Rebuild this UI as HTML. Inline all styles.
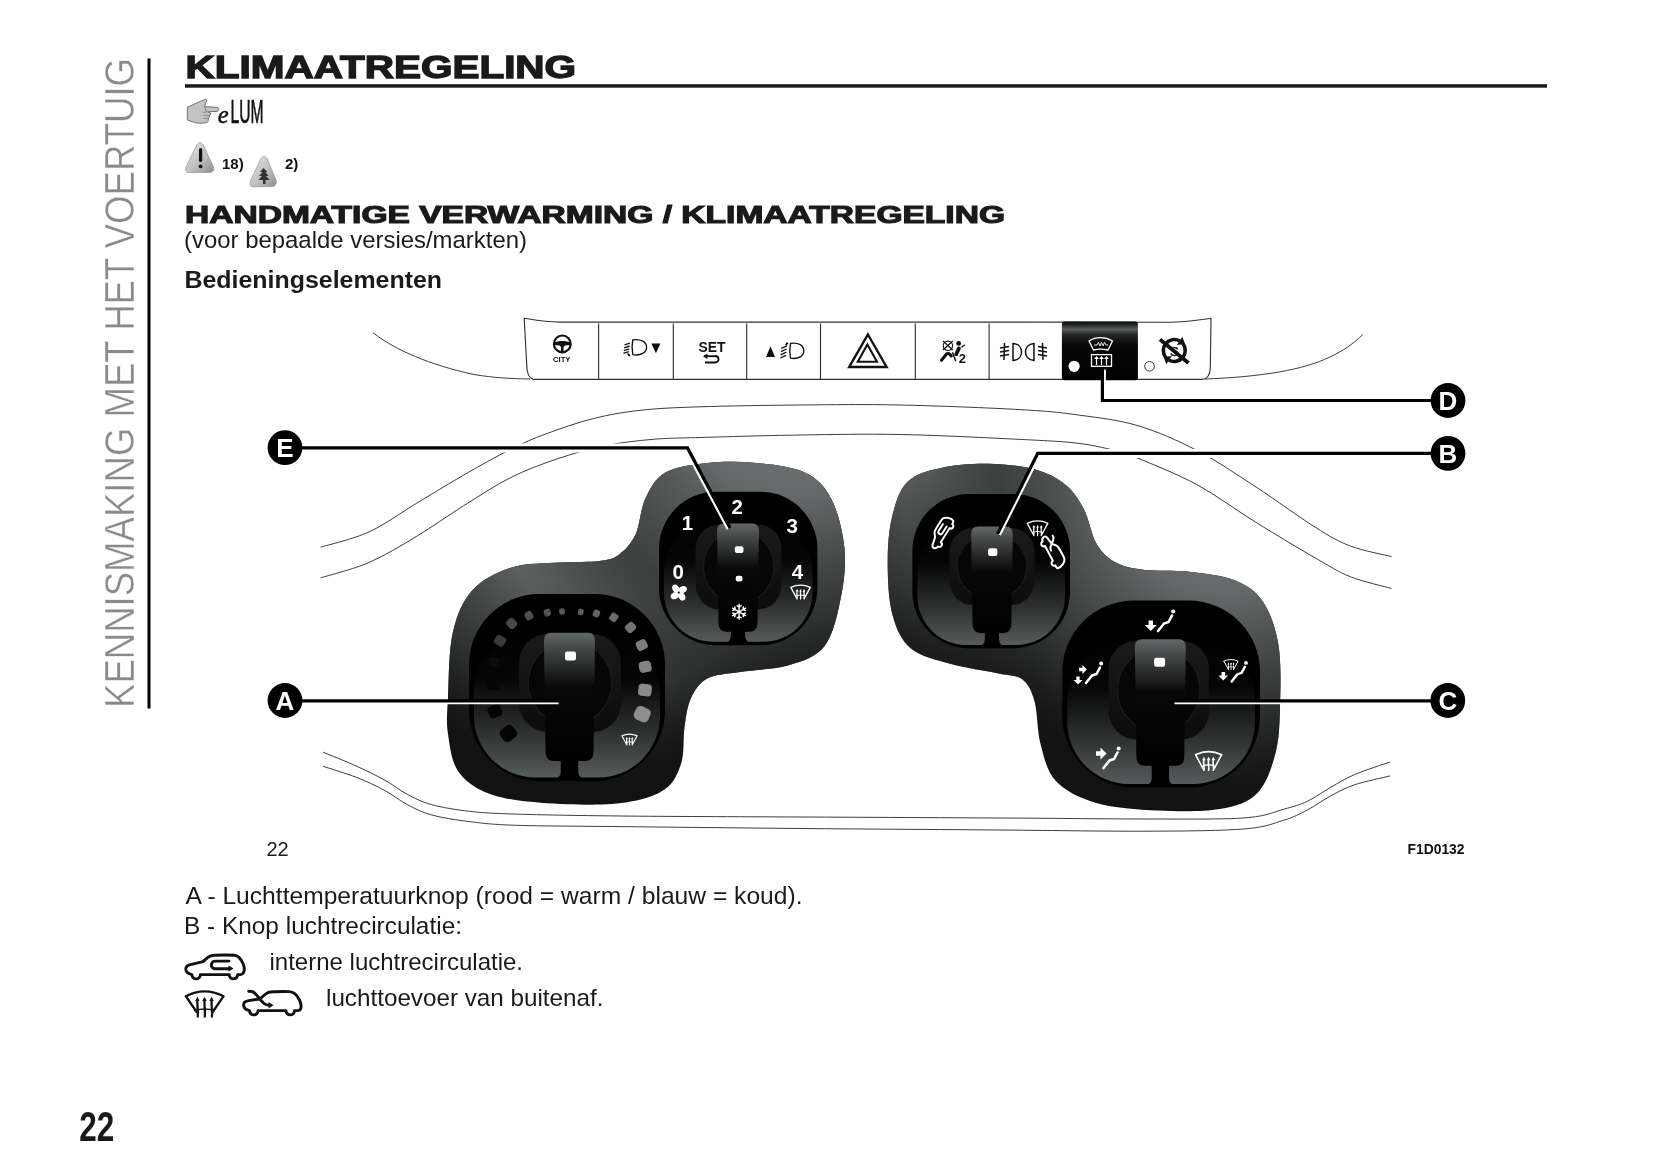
<!DOCTYPE html>
<html><head><meta charset="utf-8"><style>
html,body{margin:0;padding:0;background:#fff;}
body{width:1653px;height:1165px;overflow:hidden;position:relative;font-family:"Liberation Sans",sans-serif;}
svg{position:absolute;left:0;top:0;will-change:transform;}
</style></head><body>
<svg width="1653" height="1165" viewBox="0 0 1653 1165">
<defs>
<linearGradient id="tri" x1="0" y1="0" x2="1" y2="1"><stop offset="0" stop-color="#e8e8e8"/><stop offset="0.6" stop-color="#bdbdbd"/><stop offset="1" stop-color="#8a8a8a"/></linearGradient>
</defs>
<text transform="translate(133.8,708) rotate(-90)" font-family="Liberation Sans, sans-serif" font-size="43" fill="#8a8a8a" stroke="#fff" stroke-width="0.45" textLength="650" lengthAdjust="spacingAndGlyphs">KENNISMAKING MET HET VOERTUIG</text>
<rect x="147.5" y="58.5" width="3" height="650" fill="#000"/>
<text x="79.2" y="1141" font-family="Liberation Sans, sans-serif" font-weight="bold" font-size="41.7" fill="#1a1a1a" textLength="35" lengthAdjust="spacingAndGlyphs">22</text>
<text x="185.6" y="78.1" font-family="Liberation Sans, sans-serif" font-weight="bold" font-size="30.6" fill="#1a1a1a" textLength="390.5" lengthAdjust="spacingAndGlyphs" stroke="#1a1a1a" stroke-width="1.3">KLIMAATREGELING</text>
<rect x="185" y="84.2" width="1362" height="3.5" fill="#1a1a1a"/>
<path d="M187.3,107.3 C193,104.5 199,102 204.5,99.5 C206,99 207,100 206.3,101.5 L204.5,106.6 L217,107.3 C219.5,107.6 219.5,111.2 217,111.4 L208.5,111.8 L210.2,112.5 C211.2,113.3 210.8,115 209.5,115.2 L209,115.4 C209.8,116.2 209.6,117.8 208.5,118 L208,118.2 C208.5,119 208.5,121.5 207,122.4 C203,123.4 199,123.4 195.5,122.8 L187.3,120 Z" fill="#c2c4c4" stroke="#555" stroke-width="0.8"/>
<path d="M204.5,106.6 L206.5,111.8 M208.5,111.8 L203,112.3 M209.3,115.3 L203.5,115.6 M208.2,118.1 L203.5,118.6" fill="none" stroke="#666" stroke-width="0.6"/>
<text x="217.6" y="123.4" font-family="Liberation Serif, serif" font-style="italic" font-size="26" stroke="#111" stroke-width="0.5" fill="#111" transform="translate(218.6,123.6) scale(0.95,1) translate(-218.6,-123.6)">e</text>
<text x="230.5" y="123.2" font-family="Liberation Sans, sans-serif" font-size="33" fill="#111" stroke="#111" stroke-width="0.7" textLength="33" lengthAdjust="spacingAndGlyphs">LUM</text>
<path d="M197,144.5 C199,142 201,142 203,144.5 L213.5,167 C214.5,170 213,172 210,172.5 L189,172.5 C186,172.5 185,170 186,167 Z" fill="url(#tri)" stroke="#9a9a9a" stroke-width="0.8"/>
<rect x="199" y="148" width="3.2" height="14" rx="1.5" fill="#111"/><circle cx="200.6" cy="166.3" r="1.9" fill="#111"/>
<text x="222" y="168.6" font-family="Liberation Sans, sans-serif" font-weight="bold" font-size="15" fill="#111">18)</text>
<path d="M261,158.5 C263,156 265,156 267,158.5 L276,180 C277,183 275.5,186 273,186.5 L253,186.8 C250,186.8 249.5,184 250.5,181 Z" fill="url(#tri)" stroke="#9a9a9a" stroke-width="0.8"/>
<path d="M263.5,168 L260,172 L262.5,172 L259,176 L262,176 L258.5,180 L263,180 L263,184 L265.5,184 L265.5,180 L269.5,180 L266,176 L268.5,176 L265.5,172 L267.5,172 Z" fill="#333"/>
<text x="285" y="168.6" font-family="Liberation Sans, sans-serif" font-weight="bold" font-size="15" fill="#111">2)</text>
<text x="185" y="222.9" font-family="Liberation Sans, sans-serif" font-weight="bold" font-size="23.6" fill="#1a1a1a" textLength="820" lengthAdjust="spacingAndGlyphs" stroke="#1a1a1a" stroke-width="1.1">HANDMATIGE VERWARMING / KLIMAATREGELING</text>
<text x="184" y="248.3" font-family="Liberation Sans, sans-serif" font-size="23.7" fill="#1a1a1a" textLength="343" lengthAdjust="spacingAndGlyphs">(voor bepaalde versies/markten)</text>
<text x="184.5" y="288.3" font-family="Liberation Sans, sans-serif" font-weight="bold" font-size="23.3" fill="#1a1a1a" textLength="257.5" lengthAdjust="spacingAndGlyphs">Bedieningselementen</text>
<text x="266.5" y="856" font-family="Liberation Sans, sans-serif" font-size="20" fill="#1a1a1a">22</text>
<text x="1407.5" y="854" font-family="Liberation Sans, sans-serif" font-weight="bold" font-size="14" fill="#111" textLength="57" lengthAdjust="spacingAndGlyphs">F1D0132</text>
<text x="185.5" y="903.8" font-family="Liberation Sans, sans-serif" font-size="24.4" fill="#1a1a1a" textLength="617" lengthAdjust="spacingAndGlyphs">A - Luchttemperatuurknop (rood = warm / blauw = koud).</text>
<text x="184" y="933.8" font-family="Liberation Sans, sans-serif" font-size="24.4" fill="#1a1a1a" textLength="278" lengthAdjust="spacingAndGlyphs">B - Knop luchtrecirculatie:</text>
<text x="269.5" y="969.6" font-family="Liberation Sans, sans-serif" font-size="24" fill="#1a1a1a" textLength="253.5" lengthAdjust="spacingAndGlyphs">interne luchtrecirculatie.</text>
<text x="326" y="1006.4" font-family="Liberation Sans, sans-serif" font-size="24" fill="#1a1a1a" textLength="277.5" lengthAdjust="spacingAndGlyphs">luchttoevoer van buitenaf.</text>
<g fill="none" stroke="#111" stroke-width="2.9" stroke-linejoin="round" stroke-linecap="round"><path d="M191.9,974.6 C189,974 186.2,972.5 185.8,969.8 C185.6,967 187,965.6 189.5,964.9 L202.9,961.6 C205,960 207.5,957 210.6,955.8 C214,955 226,955 234.3,955.2 C238.5,955.5 241,959 243,963.5 C244.5,967 244.6,970.5 243.5,972.6 C242.8,974 241.5,974.6 240.5,974.6 L237.7,974.6 A4.25,4.25 0 0 1 229.2,974.6 L200.4,974.6 A4.25,4.25 0 0 1 191.9,974.6 Z"/><path d="M229,961.1 L215,961.1 C212.8,961.1 211.4,962.8 211.4,964.9 C211.4,967 212.8,968.7 215,968.7 L229,968.7"/></g>
<path d="M228.5,965.6 L233.6,968.6 L228.5,971.6 Z" fill="#111"/>
<g fill="none" stroke="#111" stroke-width="2.3" stroke-linejoin="round" stroke-linecap="round"><path d="M185.8,996.2 Q204.6,986.5 223.6,996.2 L212.7,1012 M196.6,1012 L185.8,996.2"/><path d="M197.7,1016.5 C198.5,1012 197,1007 197.4,1000.5"/><path d="M204.8,1016.5 C205.6,1012 204.1,1007 204.5,1000.5"/><path d="M211.9,1016.5 C212.7,1012 211.2,1007 211.6,1000.5"/><path d="M195,1010.5 Q204.6,1007.5 214,1010.5" stroke-width="1.6"/></g>
<path d="M195.2,1001 L197.4,996.8 L199.6,1001 Z M202.3,1001 L204.5,996.8 L206.7,1001 Z M209.4,1001 L211.6,996.8 L213.8,1001 Z" fill="#111"/>
<g fill="none" stroke="#111" stroke-width="2.9" stroke-linejoin="round" stroke-linecap="round"><path d="M249.5,1010.6 C246.5,1010.2 244,1008.5 243.6,1005 C243.4,1002.5 245,1001.2 248.7,1000.6 L259.7,999 C262,997.5 264.5,994 268.1,992.5 C272,991.6 282,991.5 289.3,991.6 C294,991.8 297,995 299.2,999.5 C301,1003 301.6,1006.5 300.6,1009 C300,1010.2 299,1010.6 298,1010.6 L294.5,1010.6 A4.3,4.3 0 0 1 285.9,1010.6 L258,1010.6 A4.3,4.3 0 0 1 249.4,1010.6 Z"/><path d="M248.7,991.2 L252.5,991.6 C256,993 260,1000 264,1003.5 C265.5,1004.8 267,1005.2 269.5,1005.2"/></g>
<path d="M268.5,1002 L273.5,1005.2 L268.5,1008.4 Z" fill="#111"/>
<defs><linearGradient id="btn" x1="0" y1="0" x2="0" y2="1"><stop offset="0" stop-color="#0a0a0a"/><stop offset="0.06" stop-color="#2a2c2c"/><stop offset="0.13" stop-color="#5a5d5d"/><stop offset="0.22" stop-color="#262828"/><stop offset="0.4" stop-color="#060606"/><stop offset="1" stop-color="#000"/></linearGradient>
<clipPath id="clipL"><path d="M448.0,698.0 C448.8,681.1 448.7,650.7 452.8,632.7 C456.9,614.8 462.6,601.2 472.4,590.3 C482.2,579.4 496.9,572.1 511.6,567.5 C526.3,562.9 545.8,563.7 560.5,562.6 C575.2,561.5 589.9,562.4 599.7,561.0 C609.5,559.6 613.2,558.8 619.2,554.4 C625.2,550.0 631.1,544.0 635.5,534.8 C639.9,525.6 640.4,509.3 645.3,499.0 C650.2,488.7 654.7,478.8 665.0,472.8 C675.3,466.8 692.1,464.6 707.3,463.0 C722.5,461.4 740.0,461.4 756.3,463.0 C772.6,464.6 792.7,466.8 805.2,472.8 C817.7,478.8 824.8,486.5 831.3,499.0 C837.8,511.5 842.8,531.7 844.4,548.0 C846.0,564.3 844.3,580.5 841.0,596.8 C837.7,613.1 833.5,634.4 824.8,645.8 C816.1,657.2 803.0,660.9 788.9,665.3 C774.8,669.6 753.6,669.7 740.0,671.9 C726.4,674.1 715.5,674.0 707.3,678.4 C699.1,682.8 694.8,689.9 691.0,698.0 C687.2,706.1 686.1,716.4 684.5,727.3 C682.9,738.2 684.5,752.9 681.2,763.2 C677.9,773.5 674.1,782.8 664.9,789.3 C655.7,795.8 643.2,799.9 625.8,802.4 C608.4,804.9 582.2,805.1 560.5,804.0 C538.8,802.9 512.1,801.0 495.3,795.8 C478.4,790.6 467.3,783.3 459.4,773.0 C451.5,762.7 449.9,746.4 448.0,733.9 C446.1,721.4 447.2,714.9 448.0,698.0Z"/></clipPath>
<clipPath id="clipR"><path d="M887.7,562.0 C887.7,545.5 889.0,529.0 892.4,515.6 C895.8,502.2 899.6,489.6 907.8,481.6 C916.0,473.6 928.4,470.7 941.8,467.7 C955.2,464.7 972.6,463.4 988.1,463.7 C1003.6,464.0 1021.6,465.8 1034.5,469.3 C1047.4,472.8 1057.2,478.0 1065.4,484.7 C1073.6,491.4 1078.8,499.6 1083.9,509.4 C1089.1,519.2 1091.2,534.6 1096.3,543.4 C1101.4,552.2 1107.1,557.6 1114.8,562.0 C1122.5,566.4 1130.2,568.1 1142.6,569.7 C1155.0,571.3 1173.5,570.0 1189.0,571.8 C1204.5,573.6 1223.0,575.5 1235.3,580.5 C1247.6,585.5 1255.9,591.3 1263.1,602.1 C1270.3,612.9 1275.7,627.9 1278.5,645.4 C1281.3,662.9 1280.5,689.1 1280.0,707.1 C1279.5,725.1 1279.2,739.1 1275.4,753.5 C1271.6,767.9 1266.2,784.3 1256.9,793.6 C1247.6,802.9 1236.3,806.3 1219.8,809.1 C1203.3,811.9 1178.6,811.6 1158.0,810.6 C1137.4,809.6 1113.3,807.8 1096.3,802.9 C1079.3,798.0 1065.4,791.1 1056.1,781.3 C1046.8,771.5 1044.2,757.6 1040.6,744.2 C1037.0,730.8 1037.6,711.8 1034.5,701.0 C1031.4,690.2 1028.3,683.9 1022.1,679.3 C1015.9,674.7 1009.2,675.8 997.4,673.2 C985.5,670.6 965.4,668.0 951.0,663.9 C936.6,659.8 920.7,656.6 910.9,648.4 C901.1,640.2 896.3,628.9 892.4,614.5 C888.5,600.1 887.7,578.5 887.7,562.0Z"/></clipPath>
<radialGradient id="hlE" gradientUnits="userSpaceOnUse" cx="790.0" cy="385.0" r="330.0" gradientTransform="translate(790.0 385.0) scale(1 1.000) translate(-790.0 -385.0)"><stop offset="0.00" stop-color="#7c7f7f" stop-opacity="1.00"/><stop offset="0.35" stop-color="#646767" stop-opacity="1.00"/><stop offset="0.70" stop-color="#363838" stop-opacity="0.85"/><stop offset="1.00" stop-color="#1a1a1a" stop-opacity="0.00"/></radialGradient>
<radialGradient id="hlA" gradientUnits="userSpaceOnUse" cx="600.0" cy="485.0" r="300.0" gradientTransform="translate(600.0 485.0) scale(1 1.000) translate(-600.0 -485.0)"><stop offset="0.00" stop-color="#7c7f7f" stop-opacity="1.00"/><stop offset="0.35" stop-color="#646767" stop-opacity="1.00"/><stop offset="0.70" stop-color="#363838" stop-opacity="0.85"/><stop offset="1.00" stop-color="#1a1a1a" stop-opacity="0.00"/></radialGradient>
<radialGradient id="hlB" gradientUnits="userSpaceOnUse" cx="1010.0" cy="385.0" r="330.0" gradientTransform="translate(1010.0 385.0) scale(1 1.000) translate(-1010.0 -385.0)"><stop offset="0.00" stop-color="#7c7f7f" stop-opacity="1.00"/><stop offset="0.35" stop-color="#646767" stop-opacity="1.00"/><stop offset="0.70" stop-color="#363838" stop-opacity="0.85"/><stop offset="1.00" stop-color="#1a1a1a" stop-opacity="0.00"/></radialGradient>
<radialGradient id="hlC" gradientUnits="userSpaceOnUse" cx="1225.0" cy="485.0" r="320.0" gradientTransform="translate(1225.0 485.0) scale(1 1.000) translate(-1225.0 -485.0)"><stop offset="0.00" stop-color="#7c7f7f" stop-opacity="1.00"/><stop offset="0.35" stop-color="#646767" stop-opacity="1.00"/><stop offset="0.70" stop-color="#363838" stop-opacity="0.85"/><stop offset="1.00" stop-color="#1a1a1a" stop-opacity="0.00"/></radialGradient>
<linearGradient id="bowl" x1="0" y1="0" x2="0" y2="1"><stop offset="0" stop-color="#000"/><stop offset="0.33" stop-color="#060606"/><stop offset="0.7" stop-color="#303232"/><stop offset="1" stop-color="#585b5b"/></linearGradient>
<linearGradient id="handle" x1="0" y1="0" x2="0" y2="1"><stop offset="0" stop-color="#656868"/><stop offset="0.12" stop-color="#474949"/><stop offset="0.42" stop-color="#080808"/><stop offset="1" stop-color="#000"/></linearGradient>
<linearGradient id="sock" x1="0" y1="0" x2="0" y2="1"><stop offset="0" stop-color="#1a1a1a"/><stop offset="1" stop-color="#0c0c0c"/></linearGradient></defs>
<path d="M320.6,547.2 C328.7,544.7 353.1,539.2 369.0,531.9 C384.9,524.6 400.5,513.0 416.2,503.5 C431.9,494.1 447.7,484.2 463.4,475.2 C479.1,466.2 496.8,456.2 510.6,449.3 C524.4,442.4 532.2,439.0 546.0,433.9 C559.8,428.8 577.5,422.5 593.2,418.6 C608.9,414.7 622.5,412.3 640.3,410.3 C658.1,408.3 673.4,407.7 700.0,406.8 C726.6,405.9 766.7,405.3 800.0,405.0 C833.3,404.7 863.3,404.2 900.0,405.0 C936.7,405.8 990.2,407.9 1020.0,409.6 C1049.8,411.3 1059.3,412.4 1079.0,415.1 C1098.7,417.8 1118.3,419.8 1138.0,425.7 C1157.7,431.6 1177.3,440.3 1197.0,450.5 C1216.7,460.7 1236.3,474.2 1256.0,487.0 C1275.7,499.8 1299.3,517.3 1315.0,527.1 C1330.7,536.9 1337.5,541.1 1350.3,546.0 C1363.1,550.9 1384.7,554.8 1391.6,556.6" fill="none" stroke="#333" stroke-width="0.95"/>
<path d="M320.6,577.9 C328.7,575.3 353.1,569.4 369.0,562.5 C384.9,555.6 400.5,546.0 416.2,536.6 C431.9,527.2 447.7,515.7 463.4,505.9 C479.1,496.1 494.9,485.5 510.6,477.6 C526.3,469.7 542.1,464.0 557.8,458.7 C573.5,453.4 589.3,448.9 605.0,445.7 C620.7,442.5 636.3,440.8 652.1,439.4 C667.9,438.0 675.4,438.2 700.0,437.5 C724.6,436.8 766.7,435.5 800.0,435.0 C833.3,434.5 863.3,433.8 900.0,434.5 C936.7,435.2 990.2,437.9 1020.0,439.4 C1049.8,440.9 1062.5,441.4 1079.0,443.4 C1095.5,445.4 1109.3,449.1 1119.1,451.6 C1128.9,454.1 1125.0,452.7 1138.0,458.2 C1151.0,463.7 1177.3,474.0 1197.0,484.7 C1216.7,495.4 1236.3,510.2 1256.0,522.4 C1275.7,534.6 1299.3,548.8 1315.0,557.8 C1330.7,566.8 1337.5,571.6 1350.3,576.7 C1363.1,581.8 1384.7,586.5 1391.6,588.5" fill="none" stroke="#333" stroke-width="0.95"/>
<path d="M323.1,752.2 C328.7,754.6 346.6,761.6 356.9,766.3 C367.2,771.0 376.6,775.6 385.0,780.3 C393.4,785.0 399.7,790.3 407.5,794.4 C415.3,798.5 421.6,801.9 431.9,804.7 C442.2,807.5 455.3,809.7 469.4,811.3 C483.5,812.9 491.2,813.3 516.3,814.1 C541.4,814.9 572.7,815.5 620.0,816.0 C667.3,816.5 736.7,816.7 800.0,817.0 C863.3,817.3 941.7,817.7 1000.0,818.0 C1058.3,818.3 1109.3,819.0 1150.0,819.0 C1190.7,819.0 1222.1,819.5 1244.4,817.9 C1266.7,816.3 1273.2,812.0 1283.7,809.2 C1294.2,806.4 1299.4,805.0 1307.3,801.3 C1315.2,797.6 1323.0,791.7 1330.9,787.2 C1338.8,782.8 1344.7,778.8 1354.5,774.6 C1364.3,770.4 1384.0,764.1 1389.9,762.0" fill="none" stroke="#333" stroke-width="0.95"/>
<path d="M323.1,766.3 C328.7,768.2 346.6,773.5 356.9,777.5 C367.2,781.5 376.6,786.1 385.0,790.6 C393.4,795.1 399.7,800.6 407.5,804.7 C415.3,808.8 421.6,812.2 431.9,815.0 C442.2,817.8 455.3,819.9 469.4,821.6 C483.5,823.3 491.2,824.5 516.3,825.3 C541.4,826.1 572.7,826.1 620.0,826.6 C667.3,827.1 736.7,827.9 800.0,828.5 C863.3,829.1 941.7,829.5 1000.0,830.0 C1058.3,830.5 1109.3,831.4 1150.0,831.2 C1190.7,831.0 1222.1,830.7 1244.4,828.9 C1266.7,827.1 1273.2,823.4 1283.7,820.2 C1294.2,817.1 1299.4,814.1 1307.3,810.0 C1315.2,805.9 1323.0,800.0 1330.9,795.8 C1338.8,791.6 1344.7,788.1 1354.5,784.8 C1364.3,781.5 1384.0,777.4 1389.9,775.9" fill="none" stroke="#333" stroke-width="0.95"/>
<path d="M373,332.7 C395,350 430,365 474,374.5 C495,378 510,378.6 530,379" fill="none" stroke="#333" stroke-width="0.95"/>
<path d="M1362.8,334.5 C1345,352 1320,365 1279,372 C1255,376 1232,378 1205,379" fill="none" stroke="#333" stroke-width="0.95"/>
<path d="M524.2,318.2 C535,320 545,322 560,322.1 L1172,322.2 C1190,321.5 1200,320 1211,318.4 L1210.3,368 C1210,375 1208,378.5 1203,379.3 L533,379.3 C529,378 527,374 526.8,366 Z" fill="#fff" stroke="#333" stroke-width="1.15"/>
<line x1="598.6" y1="323.5" x2="598.6" y2="379" stroke="#333" stroke-width="1.15"/>
<line x1="673.3" y1="323.5" x2="673.3" y2="379" stroke="#333" stroke-width="1.15"/>
<line x1="746.7" y1="323.5" x2="746.7" y2="379" stroke="#333" stroke-width="1.15"/>
<line x1="820.5" y1="323.5" x2="820.5" y2="379" stroke="#333" stroke-width="1.15"/>
<line x1="915.3" y1="323.5" x2="915.3" y2="379" stroke="#333" stroke-width="1.15"/>
<line x1="989.1" y1="323.5" x2="989.1" y2="379" stroke="#333" stroke-width="1.15"/>
<circle cx="562.3" cy="343.9" r="8.4" fill="none" stroke="#111" stroke-width="2.2"/>
<path d="M554.5,342.5 C558,340.5 566.5,340.5 570,342.5 L570,345 L565,345.5 L563.5,347 L563.5,352 L561,352 L561,347 L559.5,345.5 L554.5,345 Z" fill="#111"/>
<text x="561.7" y="361.5" font-family="Liberation Sans, sans-serif" font-weight="bold" font-size="7.6" fill="#111" text-anchor="middle">CITY</text>
<g stroke="#111" stroke-width="1.35" fill="none"><path d="M632.8,339.9 C631.8,345 631.8,350 632.8,354.7 C641,356 646.6,352.5 646.6,347.3 C646.6,342.2 641,338.5 632.8,339.9 Z"/><path d="M624.5,344.9 L629.9,343.1 M624.1,347.8 L629.6,346 M623.8,350.6 L629.2,348.8 M623.4,353.4 L628.8,351.6 M627.5,353.5 L629.5,356"/></g>
<path d="M628,355.6 L630.3,356.6 L629.6,353.8 Z" fill="#111"/>
<path d="M651.4,343.4 L660.4,343.4 L655.9,353.2 Z" fill="#111"/>
<text x="712" y="352.2" font-family="Liberation Sans, sans-serif" font-weight="bold" font-size="14" fill="#111" text-anchor="middle" textLength="27" lengthAdjust="spacingAndGlyphs">SET</text>
<path d="M715,356 C719.5,356 720,362.5 715,362.5 L705,362.5" fill="none" stroke="#111" stroke-width="1.8"/><path d="M703,356.2 L707.5,353.5 L707.5,359 Z" fill="#111"/><path d="M704,356.2 L715,356.2" stroke="#111" stroke-width="1.8"/>
<path d="M770.5,346.3 L775,356.9 L766,356.9 Z" fill="#111"/>
<g stroke="#111" stroke-width="1.35" fill="none"><path d="M790.5,343.4 C789.5,348.5 789.5,353.5 790.5,358.2 C798.5,359.5 803.8,356 803.8,350.8 C803.8,345.7 798.5,342 790.5,343.4 Z"/><path d="M781.3,348.4 L787,345.8 M780.9,351.6 L786.6,349 M780.6,354.8 L786.3,352.2 M780.3,358 L786,355.4 M785.5,345 L787.5,343"/></g>
<path d="M786,342.3 L788.6,343.2 L786.4,345.4 Z" fill="#111"/>
<path d="M867.9,334.5 L886.6,367 L849.2,367 Z" fill="none" stroke="#111" stroke-width="2.4" stroke-linejoin="miter"/>
<path d="M867.4,344.5 L877,361.8 L857.8,361.8 Z" fill="none" stroke="#111" stroke-width="2.1"/>
<circle cx="947.9" cy="345.8" r="4.7" fill="none" stroke="#111" stroke-width="1.1"/><path d="M943,341 L952.7,350 M952.7,341 L943,350" stroke="#111" stroke-width="1.1"/>
<path d="M941.5,360.3 L946.5,354 C948,352.8 949.5,353.5 951.3,356" fill="none" stroke="#111" stroke-width="3" stroke-linecap="round" stroke-linejoin="round"/>
<path d="M952.4,352.3 L955.8,361.2" stroke="#111" stroke-width="1.4"/>
<circle cx="958.7" cy="343.4" r="2.4" fill="#111"/>
<path d="M958.9,348.4 L956.2,354.3" stroke="#111" stroke-width="3.8" stroke-linecap="round"/>
<path d="M961.4,347.4 L964.8,344.8" stroke="#111" stroke-width="1.3"/>
<text x="962.3" y="362.6" font-family="Liberation Sans, sans-serif" font-weight="bold" font-size="13" fill="#111" text-anchor="middle">2</text>
<g stroke="#111" stroke-width="1.5" fill="none"><path d="M1013,343.5 L1013,360.5 C1019,360 1021.5,356 1021.5,352 C1021.5,348 1019,344 1013,343.5 Z"/><path d="M1034,343.5 L1034,360.5 C1028,360 1025.5,356 1025.5,352 C1025.5,348 1028,344 1034,343.5 Z"/><path d="M1000,348 L1009,346.5 M1000,352 L1009,350.5 M1000,356 L1009,354.5 M1004.5,343 L1004,360"/><path d="M1038,346.5 L1047,348 M1038,350.5 L1047,352 M1038,354.5 L1047,356 M1042.5,343 L1043,360"/></g>
<rect x="1061.9" y="321.6" width="76" height="58.7" rx="2.5" fill="url(#btn)"/>
<circle cx="1074.1" cy="366.3" r="5.6" fill="#fff"/>
<path d="M1089,341 C1096,336.5 1105,336.5 1112.5,341 L1108,350 C1102,348.5 1099,348.5 1093.5,350 Z" fill="none" stroke="#fff" stroke-width="1.3"/>
<path d="M1094,345 L1097,345 L1098.5,342.5 L1100,346 L1101.5,342.5 L1103,346 L1104.5,342.5 L1106,345 L1108,345" fill="none" stroke="#fff" stroke-width="0.9"/>
<rect x="1091.5" y="354.6" width="20" height="11.7" fill="none" stroke="#fff" stroke-width="1.3"/>
<path d="M1096.5,365 L1096.5,358 M1101.5,365 L1101.5,358 M1106.5,365 L1106.5,358" stroke="#fff" stroke-width="1.2"/>
<path d="M1094.5,359 L1096.5,356.5 L1098.5,359 M1099.5,359 L1101.5,356.5 L1103.5,359 M1104.5,359 L1106.5,356.5 L1108.5,359" fill="#fff" stroke="#fff" stroke-width="0.8"/>
<circle cx="1149.5" cy="366.3" r="4.8" fill="none" stroke="#333" stroke-width="1"/>
<path d="M1165.9,357.6 A11,11 0 0 1 1179.8,341.0 M1182.7,343.4 A11,11 0 0 1 1168.8,360.0" fill="none" stroke="#111" stroke-width="3.6"/>
<path d="M1185,344 L1182.3,336.8 L1176.8,345 Z M1163.6,357 L1166.3,364.2 L1171.8,356 Z" fill="#111"/>
<text x="1174.3" y="355.8" font-family="Liberation Sans, sans-serif" font-size="13" fill="#111" text-anchor="middle" stroke="#111" stroke-width="0.5">S</text>
<path d="M1160,339.5 L1188.5,363" stroke="#111" stroke-width="3.8"/>
<path d="M285,447.9 L687.5,447.9 L730.1,528" fill="none" stroke="#fff" stroke-width="9"/>
<path d="M1448,453.4 L1037.7,453.4 L998,534.3" fill="none" stroke="#fff" stroke-width="9"/>
<path d="M448.0,698.0 C448.8,681.1 448.7,650.7 452.8,632.7 C456.9,614.8 462.6,601.2 472.4,590.3 C482.2,579.4 496.9,572.1 511.6,567.5 C526.3,562.9 545.8,563.7 560.5,562.6 C575.2,561.5 589.9,562.4 599.7,561.0 C609.5,559.6 613.2,558.8 619.2,554.4 C625.2,550.0 631.1,544.0 635.5,534.8 C639.9,525.6 640.4,509.3 645.3,499.0 C650.2,488.7 654.7,478.8 665.0,472.8 C675.3,466.8 692.1,464.6 707.3,463.0 C722.5,461.4 740.0,461.4 756.3,463.0 C772.6,464.6 792.7,466.8 805.2,472.8 C817.7,478.8 824.8,486.5 831.3,499.0 C837.8,511.5 842.8,531.7 844.4,548.0 C846.0,564.3 844.3,580.5 841.0,596.8 C837.7,613.1 833.5,634.4 824.8,645.8 C816.1,657.2 803.0,660.9 788.9,665.3 C774.8,669.6 753.6,669.7 740.0,671.9 C726.4,674.1 715.5,674.0 707.3,678.4 C699.1,682.8 694.8,689.9 691.0,698.0 C687.2,706.1 686.1,716.4 684.5,727.3 C682.9,738.2 684.5,752.9 681.2,763.2 C677.9,773.5 674.1,782.8 664.9,789.3 C655.7,795.8 643.2,799.9 625.8,802.4 C608.4,804.9 582.2,805.1 560.5,804.0 C538.8,802.9 512.1,801.0 495.3,795.8 C478.4,790.6 467.3,783.3 459.4,773.0 C451.5,762.7 449.9,746.4 448.0,733.9 C446.1,721.4 447.2,714.9 448.0,698.0Z" fill="#121212"/>
<g clip-path="url(#clipL)"><rect x="440" y="455" width="410" height="360" fill="url(#hlA)"/><rect x="440" y="455" width="410" height="360" fill="url(#hlE)"/></g>
<rect x="469.0" y="594.0" width="196.0" height="187.0" rx="70.6" fill="#000"/>
<rect x="474.0" y="632.0" width="186.0" height="145.5" rx="61.4" fill="url(#bowl)"/>
<rect x="519.0" y="634.0" width="102.0" height="98.0" rx="28.6" fill="url(#sock)"/>
<ellipse cx="570.0" cy="683.0" rx="41.8" ry="42.1" fill="#060606" stroke="#1c1c1c" stroke-width="1.2"/>
<path d="M560.8,756.0 L578.2,756.0 L578.2,771.5 Q578.2,777.5 584.2,778.5 L554.8,778.5 Q560.8,777.5 560.8,771.5 Z" fill="#000"/>
<path d="M551.0,632.7 L588.0,632.7 Q595.0,632.7 595.0,640.7 L593.5,752.0 Q593.5,761.0 585.0,761.0 L554.0,761.0 Q545.5,761.0 545.5,752.0 L544.0,640.7 Q544.0,632.7 551.0,632.7 Z" fill="url(#handle)"/>
<rect x="659.0" y="491.7" width="158.4" height="153.6" rx="57.0" fill="#000"/>
<rect x="664.0" y="521.7" width="148.4" height="120.1" rx="49.0" fill="url(#bowl)"/>
<rect x="695.7" y="524.5" width="85.9" height="85.0" rx="24.1" fill="url(#sock)"/>
<ellipse cx="738.7" cy="567.0" rx="35.2" ry="36.5" fill="#060606" stroke="#1c1c1c" stroke-width="1.2"/>
<path d="M730.9,626.7 L745.1,626.7 L745.1,635.8 Q745.1,641.8 751.1,642.8 L724.9,642.8 Q730.9,641.8 730.9,635.8 Z" fill="#000"/>
<path d="M724.0,523.6 L752.0,523.6 Q759.0,523.6 759.0,531.6 L757.5,622.7 Q757.5,631.7 749.0,631.7 L727.0,631.7 Q718.5,631.7 718.5,622.7 L717.0,531.6 Q717.0,523.6 724.0,523.6 Z" fill="url(#handle)"/>
<path d="M887.7,562.0 C887.7,545.5 889.0,529.0 892.4,515.6 C895.8,502.2 899.6,489.6 907.8,481.6 C916.0,473.6 928.4,470.7 941.8,467.7 C955.2,464.7 972.6,463.4 988.1,463.7 C1003.6,464.0 1021.6,465.8 1034.5,469.3 C1047.4,472.8 1057.2,478.0 1065.4,484.7 C1073.6,491.4 1078.8,499.6 1083.9,509.4 C1089.1,519.2 1091.2,534.6 1096.3,543.4 C1101.4,552.2 1107.1,557.6 1114.8,562.0 C1122.5,566.4 1130.2,568.1 1142.6,569.7 C1155.0,571.3 1173.5,570.0 1189.0,571.8 C1204.5,573.6 1223.0,575.5 1235.3,580.5 C1247.6,585.5 1255.9,591.3 1263.1,602.1 C1270.3,612.9 1275.7,627.9 1278.5,645.4 C1281.3,662.9 1280.5,689.1 1280.0,707.1 C1279.5,725.1 1279.2,739.1 1275.4,753.5 C1271.6,767.9 1266.2,784.3 1256.9,793.6 C1247.6,802.9 1236.3,806.3 1219.8,809.1 C1203.3,811.9 1178.6,811.6 1158.0,810.6 C1137.4,809.6 1113.3,807.8 1096.3,802.9 C1079.3,798.0 1065.4,791.1 1056.1,781.3 C1046.8,771.5 1044.2,757.6 1040.6,744.2 C1037.0,730.8 1037.6,711.8 1034.5,701.0 C1031.4,690.2 1028.3,683.9 1022.1,679.3 C1015.9,674.7 1009.2,675.8 997.4,673.2 C985.5,670.6 965.4,668.0 951.0,663.9 C936.6,659.8 920.7,656.6 910.9,648.4 C901.1,640.2 896.3,628.9 892.4,614.5 C888.5,600.1 887.7,578.5 887.7,562.0Z" fill="#121212"/>
<g clip-path="url(#clipR)"><rect x="880" y="455" width="410" height="365" fill="url(#hlB)"/><rect x="880" y="455" width="410" height="365" fill="url(#hlC)"/></g>
<rect x="912.4" y="494.0" width="157.6" height="154.4" rx="56.7" fill="#000"/>
<rect x="917.4" y="524.0" width="147.6" height="120.9" rx="48.7" fill="url(#bowl)"/>
<rect x="949.5" y="528.0" width="85.0" height="77.2" rx="23.8" fill="url(#sock)"/>
<ellipse cx="992.0" cy="566.6" rx="34.9" ry="33.2" fill="#060606" stroke="#1c1c1c" stroke-width="1.2"/>
<path d="M984.9,628.0 L999.0,628.0 L999.0,638.9 Q999.0,644.9 1005.0,645.9 L978.9,645.9 Q984.9,644.9 984.9,638.9 Z" fill="#000"/>
<path d="M978.1,526.4 L1005.8,526.4 Q1012.8,526.4 1012.8,534.4 L1011.3,624.0 Q1011.3,633.0 1002.8,633.0 L981.1,633.0 Q972.6,633.0 972.6,624.0 L971.1,534.4 Q971.1,526.4 978.1,526.4 Z" fill="url(#handle)"/>
<rect x="1062.3" y="600.6" width="197.7" height="186.9" rx="71.2" fill="#000"/>
<rect x="1067.3" y="638.6" width="187.7" height="145.4" rx="61.9" fill="url(#bowl)"/>
<rect x="1108.6" y="640.7" width="100.4" height="98.9" rx="28.1" fill="url(#sock)"/>
<ellipse cx="1158.8" cy="690.2" rx="41.2" ry="42.5" fill="#060606" stroke="#1c1c1c" stroke-width="1.2"/>
<path d="M1151.7,760.8 L1169.0,760.8 L1169.0,778.0 Q1169.0,784.0 1175.0,785.0 L1145.7,785.0 Q1151.7,784.0 1151.7,778.0 Z" fill="#000"/>
<path d="M1141.9,639.2 L1178.8,639.2 Q1185.8,639.2 1185.8,647.2 L1184.3,756.8 Q1184.3,765.8 1175.8,765.8 L1144.9,765.8 Q1136.4,765.8 1136.4,756.8 L1134.9,647.2 Q1134.9,639.2 1141.9,639.2 Z" fill="url(#handle)"/>
<rect x="565.0" y="651.5" width="11.0" height="9.0" rx="2.2" fill="#fff"/>
<rect x="734.8" y="546.2" width="8.7" height="6.8" rx="2.2" fill="#fff"/>
<rect x="735.7" y="575.7" width="6.8" height="5.8" rx="2.2" fill="#fff"/>
<rect x="988.1" y="548.2" width="9.3" height="7.7" rx="2.2" fill="#fff"/>
<rect x="1154.1" y="657.8" width="11.0" height="9.0" rx="2.2" fill="#fff"/>
<rect x="500.2" y="725.2" width="15.6" height="14.4" rx="4.7" fill="#030303" transform="rotate(140.6 508.0 733.0)"/>
<rect x="488.0" y="704.0" width="13.4" height="12.3" rx="4.0" fill="#040404" transform="rotate(159.1 494.7 710.7)"/>
<rect x="487.5" y="677.8" width="12.3" height="11.3" rx="3.7" fill="#050505" transform="rotate(178.6 493.6 683.9)"/>
<rect x="489.7" y="656.6" width="10.0" height="9.2" rx="3.0" fill="#0b0b0b" transform="rotate(-164.8 494.7 661.6)"/>
<rect x="494.8" y="634.9" width="11.0" height="10.1" rx="3.3" fill="#3a3a3a" transform="rotate(-149.2 500.3 640.4)"/>
<rect x="506.9" y="618.2" width="10.0" height="9.2" rx="3.0" fill="#484848" transform="rotate(-134.7 511.9 623.2)"/>
<rect x="525.0" y="611.1" width="8.5" height="7.8" rx="2.5" fill="#4e4e4e" transform="rotate(-121.4 529.3 615.4)"/>
<rect x="543.9" y="608.8" width="7.4" height="6.8" rx="2.2" fill="#535353" transform="rotate(-107.9 547.6 612.5)"/>
<rect x="559.2" y="608.3" width="6.2" height="5.7" rx="1.9" fill="#585858" transform="rotate(-96.2 562.3 611.4)"/>
<rect x="577.9" y="608.9" width="6.2" height="5.7" rx="1.9" fill="#5e5e5e" transform="rotate(-81.1 581.0 612.0)"/>
<rect x="593.0" y="609.9" width="7.4" height="6.8" rx="2.2" fill="#646464" transform="rotate(-68.7 596.7 613.6)"/>
<rect x="609.8" y="613.4" width="8.5" height="7.8" rx="2.5" fill="#6a6a6a" transform="rotate(-55.7 614.0 617.6)"/>
<rect x="625.8" y="622.7" width="10.0" height="9.2" rx="3.0" fill="#747474" transform="rotate(-41.8 630.8 627.7)"/>
<rect x="636.5" y="640.0" width="11.0" height="10.1" rx="3.3" fill="#7c7c7c" transform="rotate(-26.9 642.0 645.5)"/>
<rect x="639.1" y="661.1" width="12.3" height="11.3" rx="3.7" fill="#848484" transform="rotate(-11.1 645.3 667.2)"/>
<rect x="638.2" y="683.9" width="13.4" height="12.3" rx="4.0" fill="#8a8a8a" transform="rotate(6.6 644.9 690.6)"/>
<rect x="634.2" y="706.9" width="15.6" height="14.4" rx="4.7" fill="#8e8e8e" transform="rotate(24.4 642.0 714.7)"/>
<g transform="translate(621.50,733.50) scale(0.4211)" fill="none" stroke="#fff" stroke-width="2.85" stroke-linejoin="round" stroke-linecap="round"><path d="M1,5.5 Q19,-3 37,5.5 L26.5,25 M11.5,25 L1,5.5"/><path d="M12.5,27 C13.5,23 11.5,19 12.5,12 M19,27 C20,23 18,19 19,12 M25.5,27 C26.5,23 24.5,19 25.5,12"/><path d="M10.5,21 Q19,18 27.5,21" stroke-width="1.99"/></g><g transform="translate(621.50,733.50) scale(0.4211)" fill="#fff"><path d="M10,13 L12.5,8.5 L15,13 Z M16.5,13 L19,8.5 L21.5,13 Z M23,13 L25.5,8.5 L28,13 Z"/></g>
<g transform="translate(790.30,584.40) scale(0.5395)" fill="none" stroke="#fff" stroke-width="2.41" stroke-linejoin="round" stroke-linecap="round"><path d="M1,5.5 Q19,-3 37,5.5 L26.5,25 M11.5,25 L1,5.5"/><path d="M12.5,27 C13.5,23 11.5,19 12.5,12 M19,27 C20,23 18,19 19,12 M25.5,27 C26.5,23 24.5,19 25.5,12"/><path d="M10.5,21 Q19,18 27.5,21" stroke-width="1.69"/></g><g transform="translate(790.30,584.40) scale(0.5395)" fill="#fff"><path d="M10,13 L12.5,8.5 L15,13 Z M16.5,13 L19,8.5 L21.5,13 Z M23,13 L25.5,8.5 L28,13 Z"/></g>
<g transform="translate(1026.70,520.20) scale(0.5711)" fill="none" stroke="#fff" stroke-width="2.28" stroke-linejoin="round" stroke-linecap="round"><path d="M1,5.5 Q19,-3 37,5.5 L26.5,25 M11.5,25 L1,5.5"/><path d="M12.5,27 C13.5,23 11.5,19 12.5,12 M19,27 C20,23 18,19 19,12 M25.5,27 C26.5,23 24.5,19 25.5,12"/><path d="M10.5,21 Q19,18 27.5,21" stroke-width="1.59"/></g><g transform="translate(1026.70,520.20) scale(0.5711)" fill="#fff"><path d="M10,13 L12.5,8.5 L15,13 Z M16.5,13 L19,8.5 L21.5,13 Z M23,13 L25.5,8.5 L28,13 Z"/></g>
<g transform="translate(1194.80,750.70) scale(0.7263)" fill="none" stroke="#fff" stroke-width="2.20" stroke-linejoin="round" stroke-linecap="round"><path d="M1,5.5 Q19,-3 37,5.5 L26.5,25 M11.5,25 L1,5.5"/><path d="M12.5,27 C13.5,23 11.5,19 12.5,12 M19,27 C20,23 18,19 19,12 M25.5,27 C26.5,23 24.5,19 25.5,12"/><path d="M10.5,21 Q19,18 27.5,21" stroke-width="1.54"/></g><g transform="translate(1194.80,750.70) scale(0.7263)" fill="#fff"><path d="M10,13 L12.5,8.5 L15,13 Z M16.5,13 L19,8.5 L21.5,13 Z M23,13 L25.5,8.5 L28,13 Z"/></g>
<text x="737.2" y="513.9" font-family="Liberation Sans, sans-serif" font-weight="bold" font-size="20.5" fill="#fff" text-anchor="middle">2</text>
<text x="687.4" y="530.3" font-family="Liberation Sans, sans-serif" font-weight="bold" font-size="20.5" fill="#fff" text-anchor="middle">1</text>
<text x="792.2" y="533.2" font-family="Liberation Sans, sans-serif" font-weight="bold" font-size="20.5" fill="#fff" text-anchor="middle">3</text>
<text x="678.2" y="578.6" font-family="Liberation Sans, sans-serif" font-weight="bold" font-size="20.5" fill="#fff" text-anchor="middle">0</text>
<text x="797.5" y="578.6" font-family="Liberation Sans, sans-serif" font-weight="bold" font-size="20.5" fill="#fff" text-anchor="middle">4</text>
<g fill="#fff" transform="translate(678.8,592.6)"><ellipse cx="-0.8" cy="-4.6" rx="3.3" ry="4.6" transform="rotate(0) rotate(-28 0 0)"/><ellipse cx="-0.8" cy="-4.6" rx="3.3" ry="4.6" transform="rotate(90) rotate(-28 0 0)"/><ellipse cx="-0.8" cy="-4.6" rx="3.3" ry="4.6" transform="rotate(180) rotate(-28 0 0)"/><ellipse cx="-0.8" cy="-4.6" rx="3.3" ry="4.6" transform="rotate(270) rotate(-28 0 0)"/><circle r="1.8"/></g>
<circle cx="678.8" cy="592.6" r="1.1" fill="#111"/>
<g stroke="#fff" stroke-width="1.4" fill="none" transform="translate(739.1,611.8)"><path transform="rotate(0)" d="M0,0 L0,-8 M-2.5,-6.5 L0,-4.5 L2.5,-6.5"/><path transform="rotate(60)" d="M0,0 L0,-8 M-2.5,-6.5 L0,-4.5 L2.5,-6.5"/><path transform="rotate(120)" d="M0,0 L0,-8 M-2.5,-6.5 L0,-4.5 L2.5,-6.5"/><path transform="rotate(180)" d="M0,0 L0,-8 M-2.5,-6.5 L0,-4.5 L2.5,-6.5"/><path transform="rotate(240)" d="M0,0 L0,-8 M-2.5,-6.5 L0,-4.5 L2.5,-6.5"/><path transform="rotate(300)" d="M0,0 L0,-8 M-2.5,-6.5 L0,-4.5 L2.5,-6.5"/></g>
<g transform="translate(941,532.5) rotate(-58) scale(0.58) translate(-215,-966)"><path d="M191.9,974.6 C189,974 186.2,972.5 185.8,969.8 C185.6,967 187,965.6 189.5,964.9 L202.9,961.6 C205,960 207.5,957 210.6,955.8 C214,955 226,955 234.3,955.2 C238.5,955.5 241,959 243,963.5 C244.5,967 244.6,970.5 243.5,972.6 C242.8,974 241.5,974.6 240.5,974.6 L237.7,974.6 A4.25,4.25 0 0 1 229.2,974.6 L200.4,974.6 A4.25,4.25 0 0 1 191.9,974.6 Z M229,961.1 L215,961.1 C212.8,961.1 211.4,962.8 211.4,964.9 C211.4,967 212.8,968.7 215,968.7 L229,968.7" fill="none" stroke="#fff" stroke-width="3.4" stroke-linejoin="round" stroke-linecap="round"/></g>
<g transform="translate(1053.5,551) rotate(62) scale(0.6) translate(-272,-1002)"><path d="M249.5,1010.6 C246.5,1010.2 244,1008.5 243.6,1005 C243.4,1002.5 245,1001.2 248.7,1000.6 L259.7,999 C262,997.5 264.5,994 268.1,992.5 C272,991.6 282,991.5 289.3,991.6 C294,991.8 297,995 299.2,999.5 C301,1003 301.6,1006.5 300.6,1009 C300,1010.2 299,1010.6 298,1010.6 L294.5,1010.6 A4.3,4.3 0 0 1 285.9,1010.6 L258,1010.6 A4.3,4.3 0 0 1 249.4,1010.6 Z M248.7,991.2 L252.5,991.6 C256,993 260,1000 264,1003.5 C265.5,1004.8 267,1005.2 269.5,1005.2" fill="none" stroke="#fff" stroke-width="3.4" stroke-linejoin="round" stroke-linecap="round"/></g>
<g transform="translate(1158.0,631.0) scale(1.00)"><path d="M0,0 L6,-7.5 L10.5,-9 L14,-15.5" fill="none" stroke="#fff" stroke-width="2.6" stroke-linecap="round" stroke-linejoin="round"/><circle cx="15.2" cy="-19.6" r="2" fill="#fff"/></g>
<g transform="translate(1150.8,620.5) scale(1.00)"><path d="M-2.2,0 L2.2,0 L2.2,4.5 L6,4.5 L0,10.5 L-6,4.5 L-2.2,4.5 Z" fill="#fff"/></g>
<g transform="translate(1086.0,683.0) scale(1.00)"><path d="M0,0 L6,-7.5 L10.5,-9 L14,-15.5" fill="none" stroke="#fff" stroke-width="2.6" stroke-linecap="round" stroke-linejoin="round"/><circle cx="15.2" cy="-19.6" r="2" fill="#fff"/></g>
<g transform="translate(1079.0,669.5) scale(0.75)"><path d="M0,-2.2 L0,2.2 L4.5,2.2 L4.5,6 L10.5,0 L4.5,-6 L4.5,-2.2 Z" fill="#fff"/></g>
<g transform="translate(1078.0,676.5) scale(0.75)"><path d="M-2.2,0 L2.2,0 L2.2,4.5 L6,4.5 L0,10.5 L-6,4.5 L-2.2,4.5 Z" fill="#fff"/></g>
<g transform="translate(1231.6,681.5) scale(0.95)"><path d="M0,0 L6,-7.5 L10.5,-9 L14,-15.5" fill="none" stroke="#fff" stroke-width="2.6" stroke-linecap="round" stroke-linejoin="round"/><circle cx="15.2" cy="-19.6" r="2" fill="#fff"/></g>
<g transform="translate(1223.3,672.0) scale(0.80)"><path d="M-2.2,0 L2.2,0 L2.2,4.5 L6,4.5 L0,10.5 L-6,4.5 L-2.2,4.5 Z" fill="#fff"/></g>
<g transform="translate(1223.50,659.00) scale(0.3947)" fill="none" stroke="#fff" stroke-width="2.53" stroke-linejoin="round" stroke-linecap="round"><path d="M1,5.5 Q19,-3 37,5.5 L26.5,25 M11.5,25 L1,5.5"/><path d="M12.5,27 C13.5,23 11.5,19 12.5,12 M19,27 C20,23 18,19 19,12 M25.5,27 C26.5,23 24.5,19 25.5,12"/><path d="M10.5,21 Q19,18 27.5,21" stroke-width="1.77"/></g><g transform="translate(1223.50,659.00) scale(0.3947)" fill="#fff"><path d="M10,13 L12.5,8.5 L15,13 Z M16.5,13 L19,8.5 L21.5,13 Z M23,13 L25.5,8.5 L28,13 Z"/></g>
<g transform="translate(1103.5,768.0) scale(1.00)"><path d="M0,0 L6,-7.5 L10.5,-9 L14,-15.5" fill="none" stroke="#fff" stroke-width="2.6" stroke-linecap="round" stroke-linejoin="round"/><circle cx="15.2" cy="-19.6" r="2" fill="#fff"/></g>
<g transform="translate(1096.0,753.5) scale(1.00)"><path d="M0,-2.2 L0,2.2 L4.5,2.2 L4.5,6 L10.5,0 L4.5,-6 L4.5,-2.2 Z" fill="#fff"/></g>
<path d="M285,700.8 L558.6,700.8" transform="translate(0.0,2.3)" fill="none" stroke="#fff" stroke-width="2.4"/>
<path d="M285,447.9 L687.5,447.9" transform="translate(0.0,2.3)" fill="none" stroke="#fff" stroke-width="2.4"/>
<path d="M687.5,447.9 L730.1,528" transform="translate(-2.3,1.3)" fill="none" stroke="#fff" stroke-width="2.4"/>
<path d="M1448,453.4 L1037.7,453.4" transform="translate(0.0,2.3)" fill="none" stroke="#fff" stroke-width="2.4"/>
<path d="M1037.7,453.4 L997.5,533.8" transform="translate(2.3,1.2)" fill="none" stroke="#fff" stroke-width="2.4"/>
<path d="M1448,700.8 L1174.5,700.8" transform="translate(0.0,2.3)" fill="none" stroke="#fff" stroke-width="2.4"/>
<path d="M1102.4,395 L1102.4,369.6" transform="translate(2.3,0.0)" fill="none" stroke="#fff" stroke-width="2.4"/>
<path d="M285,700.8 L558.6,700.8" fill="none" stroke="#000" stroke-width="3.2"/>
<path d="M285,447.9 L687.5,447.9 L730.1,528" fill="none" stroke="#000" stroke-width="3.2"/>
<path d="M1448,453.4 L1037.7,453.4 L997.5,533.8" fill="none" stroke="#000" stroke-width="3.2"/>
<path d="M1448,700.8 L1174.5,700.8" fill="none" stroke="#000" stroke-width="3.2"/>
<path d="M1448,400.5 L1102.4,400.5 L1102.4,369.6" fill="none" stroke="#000" stroke-width="3.2"/>
<circle cx="1448.0" cy="400.5" r="17.4" fill="#000"/>
<text x="1448.0" y="409.8" font-family="Liberation Sans, sans-serif" font-weight="bold" font-size="26" fill="#fff" text-anchor="middle">D</text>
<circle cx="1448.0" cy="453.4" r="17.4" fill="#000"/>
<text x="1448.0" y="462.7" font-family="Liberation Sans, sans-serif" font-weight="bold" font-size="26" fill="#fff" text-anchor="middle">B</text>
<circle cx="1447.8" cy="700.5" r="17.4" fill="#000"/>
<text x="1447.8" y="709.8" font-family="Liberation Sans, sans-serif" font-weight="bold" font-size="26" fill="#fff" text-anchor="middle">C</text>
<circle cx="285.0" cy="447.7" r="17.4" fill="#000"/>
<text x="285.0" y="457.0" font-family="Liberation Sans, sans-serif" font-weight="bold" font-size="26" fill="#fff" text-anchor="middle">E</text>
<circle cx="285.0" cy="700.5" r="17.4" fill="#000"/>
<text x="285.0" y="709.8" font-family="Liberation Sans, sans-serif" font-weight="bold" font-size="26" fill="#fff" text-anchor="middle">A</text>
</svg>
</body></html>
